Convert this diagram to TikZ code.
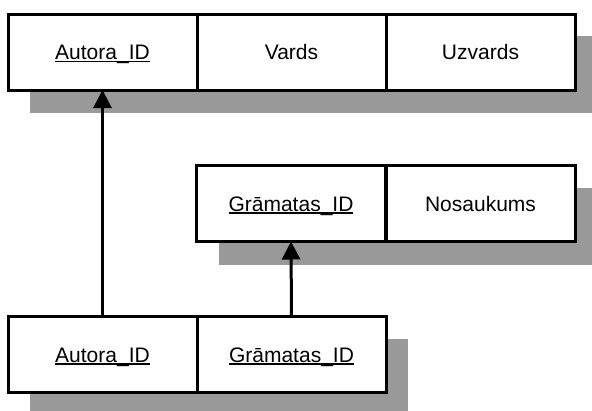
\documentclass[tikz,border=0pt]{standalone}
\usepackage{fontspec}
\setmainfont{Liberation Sans}
\usetikzlibrary{arrows.meta,calc,backgrounds}
\definecolor{shadowgray}{RGB}{153,153,153}
\newcommand\keyul[1]{\setbox0\hbox{#1}\rlap{\rule[-2.6pt]{\wd0}{1.3pt}}\box0}
\begin{document}
\begin{tikzpicture}[x=1pt,y=-1pt,
  cell/.style={draw,line width=3pt,fill=white,minimum width=189pt,minimum height=76pt,
    inner sep=0pt,outer sep=0pt,text height=15pt,text depth=0pt,font=\fontsize{21}{25}\selectfont},
  shadowbox/.style={fill=shadowgray},
  link/.style={line width=3pt,-{Triangle[length=18pt,width=18pt]}}]
\useasboundingbox (0,0) rectangle (592,410);
% top table
\node[cell] (a1) at (102.5,52) {\keyul{Autora\_ID}};
\node[cell] (a2) at (291.5,52) {Vards};
\node[cell] (a3) at (480.5,52) {Uzvards};
% middle table
\node[cell] (m1) at (291,203.5) {\keyul{Grāmatas\_ID}};
\node[cell] (m2) at (480.5,203.5) {Nosaukums};
% bottom table
\node[cell] (b1) at (102.5,354.5) {\keyul{Autora\_ID}};
\node[cell] (b2) at (291.5,354.5) {\keyul{Grāmatas\_ID}};
\begin{pgfonlayer}{background}
\fill[shadowbox] ($(a1.north west)+(22,22)$) rectangle ($(a3.south east)+(22,23)$);
\fill[shadowbox] ($(m1.north west)+(22,22)$) rectangle ($(m2.south east)+(22,23)$);
\fill[shadowbox] ($(b1.north west)+(22,22)$) rectangle ($(b2.south east)+(22,23)$);
\end{pgfonlayer}
\draw[link] (b1.north) -- (a1.south);
\draw[link] (b2.north) -- (m1.south);
\end{tikzpicture}
\end{document}
